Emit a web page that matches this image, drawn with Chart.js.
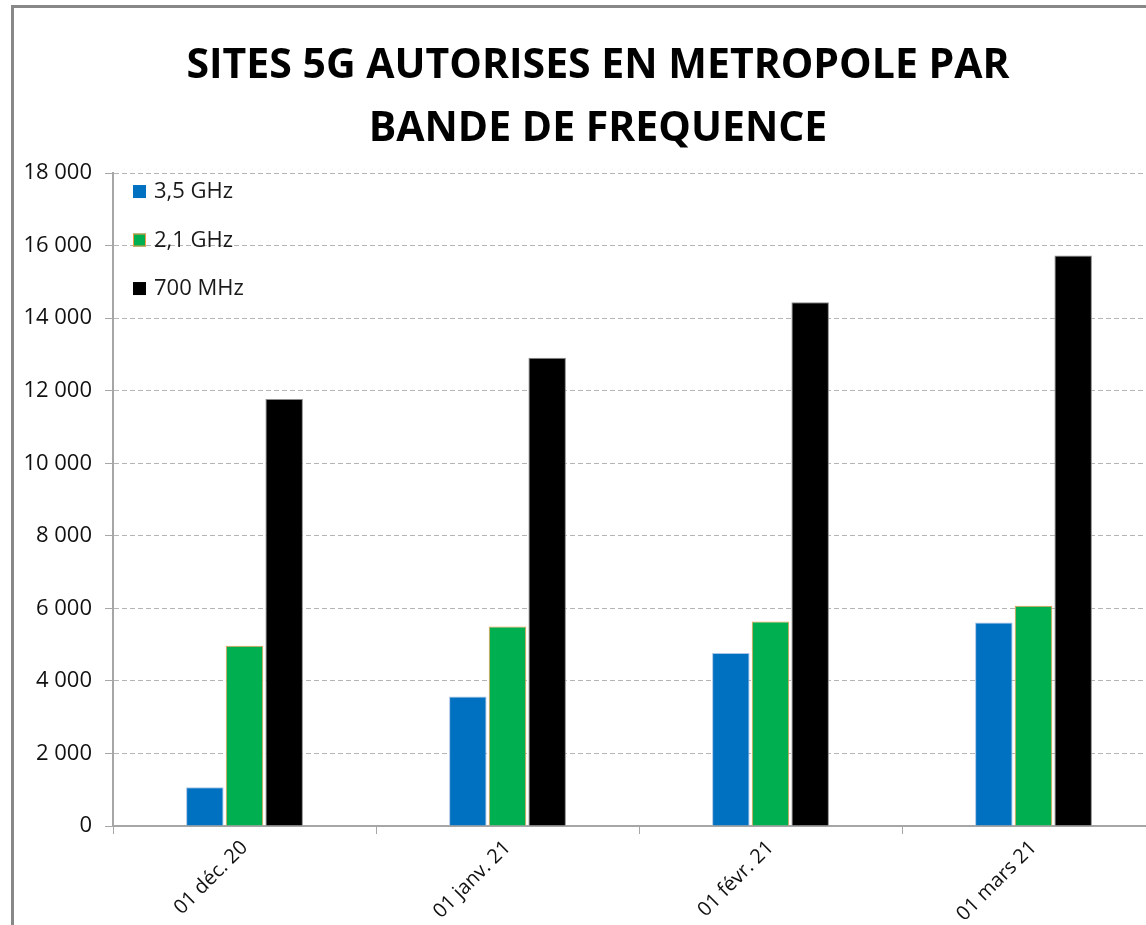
<!DOCTYPE html>
<html>
<head>
<meta charset="utf-8">
<script src="https://cdn.jsdelivr.net/npm/chart.js@4"></script>
<style>
  html, body { margin: 0; padding: 0; overflow: hidden; background: #fff; }
  #frame { position: absolute; left: 11px; top: 5px; width: 2000px; height: 2000px;
           border-left: 3px solid #888; border-top: 3px solid #888; }
  #wrap { position: absolute; left: 0; top: 0; width: 1184px; height: 925px; }
</style>
</head>
<body>
<div id="frame"></div>
<div id="wrap"><canvas id="chart-sites" width="1184" height="925"></canvas></div>
<script>
var labels = ['01 déc. 20', '01 janv. 21', '01 févr. 21', '01 mars 21'];
var sites35 = [1070, 3570, 4770, 5610];
var sites21 = [4970, 5500, 5640, 6070];
var sites700 = [11770, 12910, 14440, 15730];
var titleLines = ['SITES 5G AUTORISES EN METROPOLE PAR', 'BANDE DE FREQUENCE'];

function fmt(v) {
    return String(v).replace(/\B(?=(\d{3})+(?!\d))/g, ' ');
}

// legend drawn inside the plot, top left, one item per row
var insideLegend = {
    id: 'insideLegend',
    afterDraw: function(chart) {
        var ctx = chart.ctx;
        var x = chart.chartArea.left + 20;
        var y = chart.chartArea.top + 12;
        ctx.save();
        ctx.font = '22px "Open Sans"';
        ctx.textBaseline = 'middle';
        chart.data.datasets.forEach(function(ds, i) {
            var yy = y + i * 48.5;
            ctx.fillStyle = ds.backgroundColor;
            ctx.fillRect(x, yy, 13, 13);
            if (ds.legendBorder) {
                ctx.strokeStyle = ds.legendBorder;
                ctx.lineWidth = 1;
                ctx.strokeRect(x + 0.5, yy + 0.5, 12, 12);
            }
            ctx.fillStyle = '#1a1a1a';
            ctx.fillText(ds.label, x + 21, yy + 7);
        });
        ctx.restore();
    }
};

var config = {
    type: 'bar',
    data: {
        labels: labels,
        datasets: [{
            label: '3,5 GHz',
            data: sites35,
            backgroundColor: '#0070C0',
            borderColor: '#a9c4e4',
            borderWidth: 1
        }, {
            label: '2,1 GHz',
            data: sites21,
            backgroundColor: '#00B050',
            borderColor: '#F79646',
            legendBorder: '#F79646',
            borderWidth: 1
        }, {
            label: '700 MHz',
            data: sites700,
            backgroundColor: '#000000',
            borderColor: '#8c8c8c',
            borderWidth: 1
        }]
    },
    options: {
        responsive: false,
        animation: false,
        categoryPercentage: 0.4525,
        barPercentage: 0.945,
        layout: { padding: { left: 12, right: 0, top: 0, bottom: 0 } },
        plugins: {
            legend: { display: false },
            tooltip: { enabled: false },
            title: {
                display: true,
                text: titleLines,
                color: '#000',
                font: { family: '"Open Sans"', size: 41, weight: 'bold', lineHeight: 1.537 },
                padding: { top: 35, bottom: 12 }
            }
        },
        scales: {
            x: {
                afterFit: function(scale) { scale.height = 99; },
                grid: {
                    display: true,
                    drawOnChartArea: false,
                    drawTicks: true,
                    tickLength: 8,
                    color: '#a6a6a6'
                },
                border: { color: '#a6a6a6', width: 2 },
                ticks: {
                    color: '#111',
                    font: { family: '"Open Sans"', size: 20 },
                    minRotation: 45,
                    maxRotation: 45,
                    padding: 2
                }
            },
            y: {
                min: 0,
                max: 18000,
                afterFit: function(scale) { scale.width = 101; },
                grid: {
                    color: '#b5b5b5',
                    tickLength: 8,
                    tickColor: '#a6a6a6'
                },
                border: { color: '#a6a6a6', width: 2, dash: [5, 3] },
                ticks: {
                    stepSize: 2000,
                    color: '#111',
                    padding: 13,
                    font: { family: '"Open Sans"', size: 22 },
                    callback: function(v) { return fmt(v); }
                }
            },
            // empty right-hand strip, the plot runs past the picture's edge
            yRight: {
                position: 'right',
                afterFit: function(scale) { scale.width = 19; },
                grid: { display: false },
                border: { display: false },
                ticks: { display: false }
            }
        }
    },
    plugins: [insideLegend]
};

window.onload = function() {
    var ctx = document.getElementById('chart-sites').getContext('2d');
    window.sitesChart = new Chart(ctx, config);
};
</script>
</body>
</html>
